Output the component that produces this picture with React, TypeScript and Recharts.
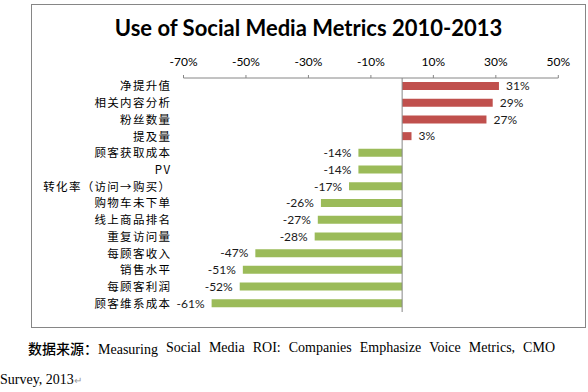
import React from "react";
import { BarChart, Bar, XAxis, YAxis, Cell, LabelList, ReferenceLine } from "recharts";

const categories = [
  "净提升值",
  "相关内容分析",
  "粉丝数量",
  "提及量",
  "顾客获取成本",
  "PV",
  "转化率（访问→购买）",
  "购物车未下单",
  "线上商品排名",
  "重复访问量",
  "每顾客收入",
  "销售水平",
  "每顾客利润",
  "顾客维系成本",
];
const values = [31, 29, 27, 3, -14, -14, -17, -26, -27, -28, -47, -51, -52, -61];
const xTicks = [-70, -50, -30, -10, 10, 30, 50];
const titleText = "Use of Social Media Metrics 2010-2013";
const sourceLabel = "数据来源：";
const sourceLine1 = "Measuring Social Media ROI: Companies Emphasize Voice Metrics, CMO";
const sourceLine2 = "Survey, 2013";

const POS = "#C0504D";
const NEG = "#9BBB59";
const GREY = "#868686";

const data = categories.map((name, i) => ({ name, value: values[i] }));
const words1 = sourceLine1.split(" ");

const renderLabel = (props: any) => {
  const { x, y, width, height, value } = props;
  const left = Math.min(x, x + width);
  const right = Math.max(x, x + width);
  const cy = y + height / 2;
  const pos = value >= 0;
  return (
    <text
      x={pos ? right + 7 : left - 7}
      y={cy}
      dy="0.36em"
      textAnchor={pos ? "start" : "end"}
      fontFamily="Lato"
      fontSize={12}
      fill="#1a1a1a"
    >
      {value}%
    </text>
  );
};

export default function App() {
  return (
    <div style={{ position: "absolute", left: 0, top: 0, width: 588, height: 392, background: "#fff", overflow: "hidden" }}>
      <div
        style={{
          position: "absolute",
          left: 31,
          top: 4,
          width: 553,
          height: 322,
          border: `1px solid ${GREY}`,
        }}
      />
      <div
        style={{
          position: "absolute",
          left: 31,
          top: 14,
          width: 555,
          textAlign: "center",
          fontFamily: "Lato",
          fontWeight: 700,
          fontSize: 22,
          color: "#000",
          lineHeight: "28px",
        }}
      >
        {titleText}
      </div>
      <div style={{ position: "absolute", left: 0, top: 0 }}>
        <BarChart
          width={588}
          height={330}
          data={data}
          layout="vertical"
          margin={{ top: 48, right: 29.7, bottom: 18, left: 0 }}
          barSize={8}
        >
          <XAxis
            type="number"
            orientation="top"
            domain={[-70, 50]}
            ticks={xTicks}
            tickFormatter={(v: number) => `${v}%`}
            height={30}
            tickSize={3}
            tickMargin={9}
            stroke={GREY}
            axisLine={{ stroke: GREY }}
            tickLine={{ stroke: GREY }}
            tick={{ fill: "#000", fontFamily: "Lato", fontSize: 12 }}
            allowDataOverflow
          />
          <YAxis
            type="category"
            dataKey="name"
            width={183.5}
            axisLine={false}
            tickLine={false}
            tickSize={0}
            tickMargin={12.2}
            interval={0}
            tick={{ fill: "#000", fontFamily: "Noto Sans CJK SC", fontSize: 11.5, letterSpacing: 1.3 }}
          />
          <ReferenceLine x={0} stroke={GREY} strokeWidth={1} ifOverflow="extendDomain" />
          <Bar dataKey="value" isAnimationActive={false}>
            {data.map((d, i) => (
              <Cell key={i} fill={d.value >= 0 ? POS : NEG} />
            ))}
            <LabelList dataKey="value" content={renderLabel} />
          </Bar>
        </BarChart>
      </div>
      <div
        style={{
          position: "absolute",
          left: 28,
          top: 338,
          width: 527,
          fontSize: 14,
          lineHeight: "20px",
          color: "#000",
          whiteSpace: "nowrap",
          display: "flex",
          justifyContent: "space-between",
        }}
      >
        {words1.map((w, i) => (
          <span key={i} style={{ fontFamily: "'Liberation Serif', serif" }}>
            {i === 0 ? (
              <>
                <span style={{ fontFamily: "'Noto Sans CJK SC'", fontWeight: 500 }}>{sourceLabel}</span>
                {w}
              </>
            ) : (
              w
            )}
          </span>
        ))}
      </div>
      <div
        style={{
          position: "absolute",
          left: 0,
          top: 370,
          fontFamily: "'Liberation Serif', serif",
          fontSize: 14,
          lineHeight: "20px",
          color: "#000",
          whiteSpace: "nowrap",
        }}
      >
        {sourceLine2}
        <span style={{ color: "#999", fontSize: 10 }}>↵</span>
      </div>
    </div>
  );
}
